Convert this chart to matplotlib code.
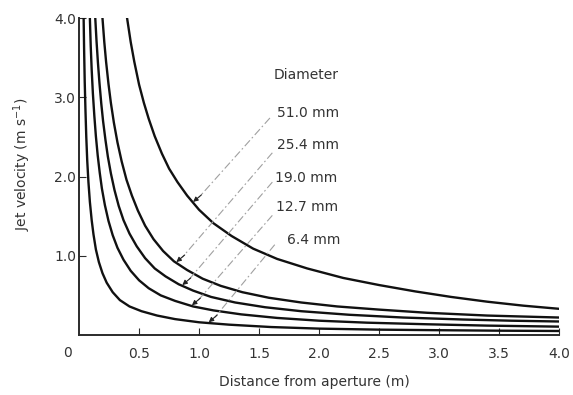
import numpy as np
import matplotlib
matplotlib.use('Agg')
import matplotlib.pyplot as plt

# values (distance in m, velocity in m/s)
x_64 = [0.038, 0.042, 0.047, 0.053, 0.06, 0.068, 0.078, 0.09, 0.105, 0.12, 0.14, 0.165, 0.195, 0.23,
        0.28, 0.34, 0.42, 0.52, 0.65, 0.80, 1.00, 1.25, 1.60, 2.00, 2.50, 3.00, 3.50, 4.00]
v_64 = [4.00, 3.60, 3.20, 2.85, 2.50, 2.20, 1.93, 1.68, 1.45, 1.27, 1.08, 0.92, 0.78, 0.66,
        0.54, 0.44, 0.36, 0.30, 0.245, 0.20, 0.16, 0.13, 0.10, 0.08, 0.067, 0.06, 0.054, 0.05]

x_127 = [0.09, 0.097, 0.105, 0.115, 0.127, 0.14, 0.155, 0.172, 0.19, 0.215, 0.245, 0.28, 0.32, 0.37,
         0.43, 0.50, 0.58, 0.68, 0.80, 0.95, 1.12, 1.35, 1.65, 2.00, 2.40, 2.90, 3.40, 4.00]
v_127 = [4.00, 3.65, 3.35, 3.05, 2.77, 2.51, 2.27, 2.05, 1.85, 1.64, 1.44, 1.26, 1.10, 0.95,
         0.81, 0.69, 0.59, 0.50, 0.43, 0.36, 0.31, 0.26, 0.215, 0.18, 0.155, 0.135, 0.118, 0.105]

x_190 = [0.135, 0.145, 0.157, 0.17, 0.185, 0.20, 0.22, 0.24, 0.265, 0.295, 0.33, 0.37, 0.42, 0.48,
         0.55, 0.63, 0.72, 0.83, 0.95, 1.10, 1.30, 1.55, 1.85, 2.25, 2.70, 3.20, 3.60, 4.00]
v_190 = [4.00, 3.72, 3.44, 3.18, 2.92, 2.70, 2.46, 2.25, 2.04, 1.83, 1.63, 1.45, 1.28, 1.12,
         0.97, 0.84, 0.74, 0.64, 0.56, 0.48, 0.41, 0.35, 0.30, 0.255, 0.22, 0.195, 0.18, 0.17]

x_254 = [0.195, 0.21, 0.225, 0.245, 0.265, 0.29, 0.32, 0.355, 0.395, 0.44, 0.49, 0.55, 0.62, 0.70,
         0.79, 0.90, 1.03, 1.18, 1.36, 1.58, 1.85, 2.15, 2.50, 2.90, 3.40, 4.00]
v_254 = [4.00, 3.70, 3.45, 3.17, 2.93, 2.68, 2.43, 2.19, 1.96, 1.76, 1.57, 1.38, 1.21, 1.06,
         0.93, 0.82, 0.71, 0.62, 0.54, 0.47, 0.41, 0.36, 0.32, 0.28, 0.245, 0.22]

x_510 = [0.40, 0.43, 0.46, 0.50, 0.54, 0.58, 0.63, 0.69, 0.75, 0.82, 0.90, 1.00, 1.12, 1.27,
         1.45, 1.65, 1.90, 2.20, 2.50, 2.80, 3.10, 3.40, 3.70, 4.00]
v_510 = [4.00, 3.70, 3.45, 3.16, 2.93, 2.73, 2.51, 2.29, 2.10, 1.93, 1.76, 1.58, 1.41, 1.25,
         1.09, 0.96, 0.84, 0.72, 0.63, 0.55, 0.48, 0.42, 0.37, 0.33]

labels = ['51.0 mm', '25.4 mm', '19.0 mm', '12.7 mm', '6.4 mm']
curves = [(x_510, v_510), (x_254, v_254), (x_190, v_190), (x_127, v_127), (x_64, v_64)]

xticks = [0.5, 1.0, 1.5, 2.0, 2.5, 3.0, 3.5, 4.0]
yticks = [1.0, 2.0, 3.0, 4.0]

ink = '#2b2b2b'
txt = '#333333'
plt.rcParams['font.family'] = ['DejaVu Sans']

fig = plt.figure(figsize=(5.73, 3.95), dpi=100)
ax = fig.add_axes([0.138, 0.152, 0.838, 0.802])

for xs, vs in curves:
    ax.plot(xs, vs, color='#111111', lw=1.7, solid_joinstyle='round')

ax.set_xlim(0, 4.0)
ax.set_ylim(0, 4.0)
ax.spines['top'].set_visible(False)
ax.spines['right'].set_visible(False)
for s in ('left', 'bottom'):
    ax.spines[s].set_color(ink)
    ax.spines[s].set_linewidth(1.4)

ax.set_xticks(xticks)
ax.set_xticklabels(['%.1f' % t for t in xticks])
ax.set_yticks(yticks)
ax.set_yticklabels(['%.1f' % t for t in yticks])
ax.tick_params(axis='both', direction='in', length=5, width=0.8, colors=ink,
               labelsize=10, labelcolor=txt)
ax.tick_params(axis='x', pad=9)
ax.tick_params(axis='y', pad=2)
# origin label sits left of the corner, on the same row as the x tick labels
ax.text(-0.1, -0.145, '0', transform=ax.transData, ha='center', va='top',
        fontsize=10, color=txt, clip_on=False)

ax.set_xlabel('Distance from aperture (m)', fontsize=10, color=txt)
ax.xaxis.set_label_coords(0.49, -0.125)
ax.set_ylabel('Jet velocity (m s$^{-1}$)', fontsize=10, color=txt)
ax.yaxis.set_label_coords(-0.095, 0.54)

# legend block and leader lines
ax.text(1.62, 3.28, 'Diameter', fontsize=10, color=txt, va='center')
label_y = [2.80, 2.40, 1.98, 1.62, 1.20]
label_x = [1.65, 1.65, 1.63, 1.64, 1.73]
lead_start = [(1.59, 2.74), (1.61, 2.30), (1.61, 1.93), (1.61, 1.51), (1.63, 1.14)]
lead_end_x = [0.95, 0.81, 0.86, 0.94, 1.08]

for lab, lx, ly, (sx, sy), ex, (xs, vs) in zip(labels, label_x, label_y, lead_start, lead_end_x, curves):
    ax.text(lx, ly, lab, fontsize=10, color=txt, va='center')
    ey = np.interp(ex, xs, vs)
    ax.plot([sx, ex + 0.05], [sy, ey + 0.07], color='#a0a0a0', lw=0.8,
            linestyle=(0, (7, 2.5, 1.5, 2.5)))
    ax.annotate('', xy=(ex, ey + 0.01), xytext=(ex + 0.07, ey + 0.10),
                arrowprops=dict(arrowstyle='-|>', color='#222222', lw=0.8,
                                mutation_scale=7, shrinkA=0, shrinkB=0))

fig.savefig('out.png', dpi=100)
